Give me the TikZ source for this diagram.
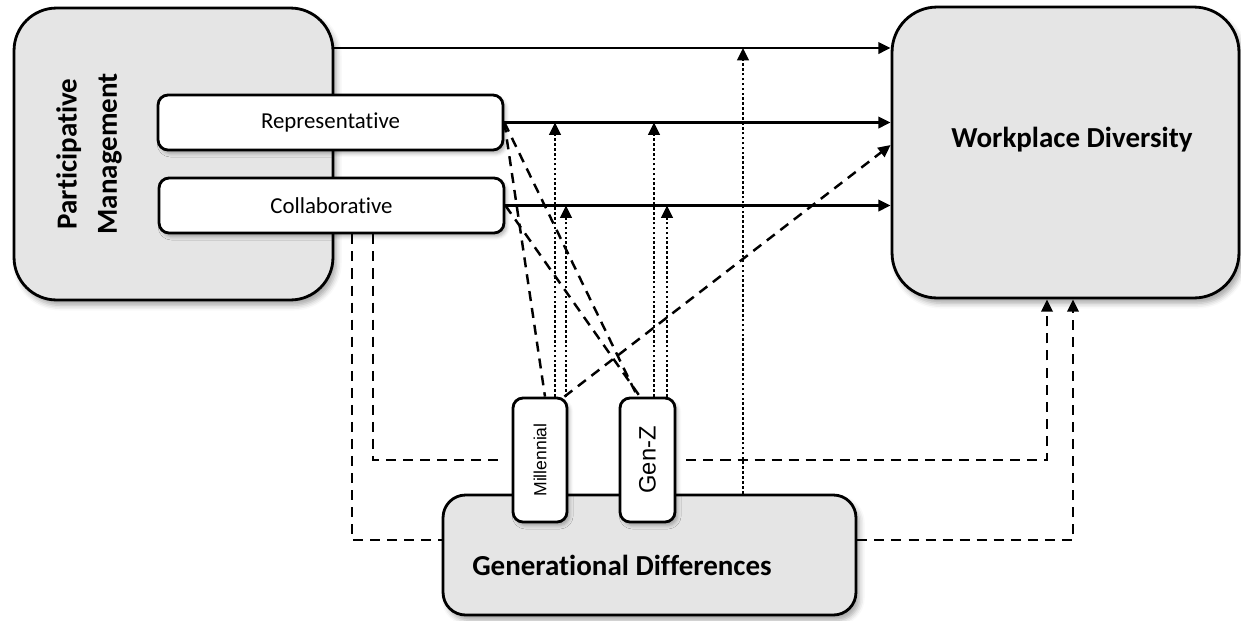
\documentclass[tikz,border=0pt]{standalone}
\usepackage{fontspec}
\setmainfont{Carlito}[Ligatures=NoCommon]
\newfontfamily\arialfont{Liberation Sans}
\usetikzlibrary{arrows.meta,shadows.blur,positioning}

\begin{document}
\begin{tikzpicture}[x=0.02cm,y=-0.02cm,
    bigbox/.style={draw,line width=1.6pt,fill=black!10,rounded corners=0.85cm,
        blur shadow={shadow xshift=2pt,shadow yshift=-3pt,shadow opacity=35,shadow blur radius=3pt}},
    subbox/.style={draw,line width=1.6pt,fill=white,rounded corners=0.2cm,
        blur shadow={shadow xshift=1.5pt,shadow yshift=-2pt,shadow opacity=30,shadow blur radius=2pt}},
    boldtext/.style={font=\bfseries\fontsize{16.5}{23}\selectfont},
    tip/.style={-{Triangle[length=7pt,width=6.5pt]}},
    flow/.style={tip,line width=1.4pt},
    modline/.style={tip,line width=1.5pt,dash pattern=on 1.5pt off 1.3pt},
    dashline/.style={line width=1.4pt,dash pattern=on 5.7pt off 4pt},
]
    \useasboundingbox (0,0) rectangle (1241,620);

    % main constructs
    \node[bigbox,minimum width=6.38cm,minimum height=5.84cm] (pm) at (173.5,154) {};
    \node[boldtext,align=center,rotate=90] (pmlabel) at (89,154) {Participative\\Management};
    \node[subbox,minimum width=6.9cm,minimum height=1.1cm,font=\fontsize{13}{15}\selectfont] (rep) at (330.5,122.5) {Representative};
    \node[subbox,minimum width=6.9cm,minimum height=1.1cm,font=\fontsize{13}{15}\selectfont] (col) at (331.5,205.5) {Collaborative};
    \node[bigbox,rounded corners=0.9cm,minimum width=6.94cm,minimum height=5.82cm] (wd) at (1065.5,152.5) {};
    \node[boldtext] (wdlabel) at (1072,140) {Workplace Diversity};
    \node[bigbox,rounded corners=0.45cm,minimum width=8.26cm,minimum height=2.4cm] (gd) at (649.5,555) {};
    \node[boldtext] (gdlabel) at (622,565) {Generational Differences};
    \node[subbox,minimum width=1.08cm,minimum height=2.48cm] (mill) at (540,460) {};
    \node[rotate=90,font=\arialfont\fontsize{10}{12}\selectfont] (milllabel) at (mill.center) {Millennial};
    \node[subbox,minimum width=1.1cm,minimum height=2.48cm] (genz) at (647.5,460) {};
    \node[rotate=90,font=\arialfont\fontsize{13.5}{16}\selectfont] (genzlabel) at (genz.center) {Gen-Z};

    \coordinate (toprow) at (0,48);
    \coordinate (lowrow) at (0,540);

    % direct effects
    \draw[flow] (pm.east |- toprow) -- (wd.west |- toprow);
    \draw[flow] (rep.east) -- (rep.east -| wd.west);
    \draw[flow] (col.east) -- (col.east -| wd.west);

    % moderating effects
    \foreach \g/\dx/\t in {mill/0.3/rep, mill/0.52/col, genz/0.13/rep, genz/0.39/col} {
        \coordinate (m) at ([xshift=\dx cm]\g.north);
        \draw[modline] (m) -- (m |- \t.east);
    }
    \coordinate (gdup) at ([xshift=1.87cm]gd.north);
    \draw[modline] (gdup) -- (gdup |- toprow);

    % mediating paths
    \draw[dashline] (rep.east) -- ([xshift=0.1cm]mill.north);
    \draw[dashline] (rep.east) -- ([xshift=-0.2cm]genz.north);
    \draw[dashline] (col.east) -- ([xshift=-0.15cm]genz.north);
    \draw[dashline,tip] ([xshift=-0.08cm]mill.north east) -- ([yshift=0.15cm]wd.west);

    % paths round the generations
    \coordinate (c1) at ([xshift=0.83cm]col.south);
    \coordinate (c2) at ([xshift=0.41cm]col.south);
    \draw[dashline] (c1) |- ([xshift=-0.24cm]mill.west);
    \draw[dashline,tip] ([xshift=0.2cm]genz.east) -| ([xshift=-0.37cm]wd.south);
    \draw[dashline] (c2) |- (gd.west |- lowrow);
    \draw[dashline,tip] (gd.east |- lowrow) -| ([xshift=0.15cm]wd.south);
\end{tikzpicture}
\end{document}
